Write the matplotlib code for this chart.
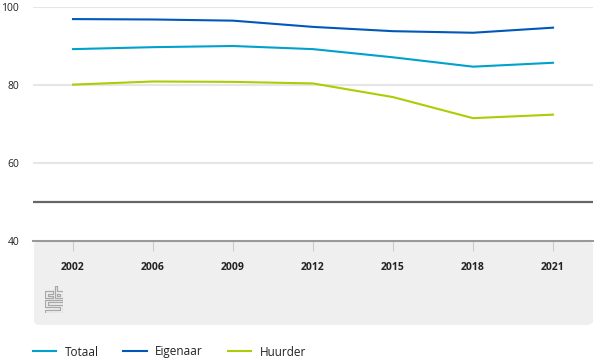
import matplotlib
matplotlib.use("Agg")
import matplotlib.pyplot as plt
from matplotlib.patches import FancyBboxPatch
from matplotlib.lines import Line2D

plt.rcParams['font.family'] = ['Open Sans', 'DejaVu Sans']

years = ['2002', '2006', '2009', '2012', '2015', '2018', '2021']
totaal = [89.2, 89.7, 90.0, 89.2, 87.1, 84.7, 85.7]
eigenaar = [96.9, 96.8, 96.5, 94.9, 93.8, 93.4, 94.7]
huurder = [80.1, 80.9, 80.8, 80.4, 76.9, 71.5, 72.4]

c_tot = '#00a1cd'
c_eig = '#0058b8'
c_huu = '#afcb05'

W, H = 600, 362
fig = plt.figure(figsize=(6, 3.62), dpi=100)

# grey panel below the plot (x labels + logo)
panel = FancyBboxPatch((34 / W, 1 - 325 / H), 559 / W, 84 / H,
                       boxstyle="round,pad=0,rounding_size=0.012",
                       transform=fig.transFigure, facecolor='#efefef',
                       edgecolor='none', zorder=-5)
fig.add_artist(panel)

ax = fig.add_axes([33 / W, 1 - 241 / H, 560 / W, 234 / H])
ax.set_facecolor('none')
x = range(len(years))
ax.plot(x, totaal, color=c_tot, lw=1.5, label='Totaal')
ax.plot(x, eigenaar, color=c_eig, lw=1.5, label='Eigenaar')
ax.plot(x, huurder, color=c_huu, lw=1.5, label='Huurder')

ax.set_xlim(-0.5, 6.5)
ax.set_ylim(40, 100)
ax.set_yticks([40, 60, 80, 100])
ax.set_yticklabels(['40', '60', '80', '100'], fontsize=7.5, color='#222222')
ax.tick_params(axis='y', length=0, pad=10)
for v in [60, 80, 100]:
    ax.axhline(v, color='#e6e6e6', lw=1.5, zorder=0)
ax.axhline(50, color='#666666', lw=1.6, zorder=1)
for s in ['top', 'right', 'left']:
    ax.spines[s].set_visible(False)
ax.spines['bottom'].set_color('#999999')
ax.spines['bottom'].set_linewidth(1.5)
ax.set_xticks(list(x))
ax.set_xticklabels(years, fontsize=7.5, fontweight='bold', color='#222222')
ax.tick_params(axis='x', length=7, width=0.8, color='#cccccc', pad=8)

# cbs logo, outline style (pixel units, y downwards)
lg = fig.add_axes([45 / W, 1 - 313 / H, 18 / W, 27 / H])
lg.axis('off')
lg.set_xlim(-0.5, 18.5)
lg.set_ylim(27.5, -0.5)
kw = dict(color='#a8a8a8', lw=0.9)
lg.plot([8, 0, 0, 8, 8, 2.5, 2.5, 8, 8], [5, 5, 12, 12, 9.5, 9.5, 7.5, 7.5, 5], **kw)
lg.plot([10, 12.5, 12.5, 18, 18, 10, 10], [0, 0, 5, 5, 12, 12, 0], **kw)
lg.plot([12.5, 15.5, 15.5, 12.5, 12.5], [7.5, 7.5, 9.5, 9.5, 7.5], **kw)
lg.plot([18, 0, 0, 15.5, 15.5, 0, 0, 18, 18, 2.5, 2.5, 18, 18],
        [14, 14, 21.5, 21.5, 24.5, 24.5, 27, 27, 19, 19, 16.5, 16.5, 14], **kw)

handles = [Line2D([], [], color=c, lw=1.5) for c in (c_tot, c_eig, c_huu)]
fig.legend(handles, ['Totaal', 'Eigenaar', 'Huurder'], loc='center left',
           bbox_to_anchor=(22 / W, 1 - 352 / H), ncol=3, frameon=False,
           fontsize=8.5, handlelength=2.0, handletextpad=0.7,
           columnspacing=2.1, labelcolor='#222222')

fig.savefig('out.png', dpi=100)
